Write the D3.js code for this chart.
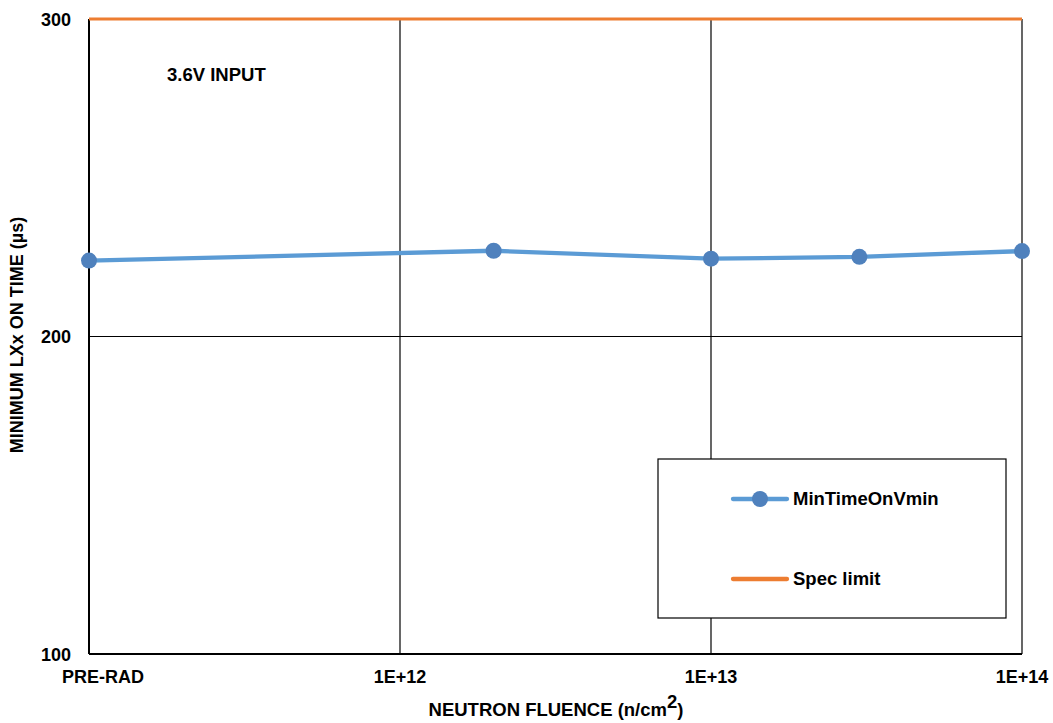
<!DOCTYPE html>
<html><head><meta charset="utf-8">
<script src="https://cdn.jsdelivr.net/npm/d3@7"></script>
<style>body{margin:0;background:#fff}svg{display:block;font-family:"Liberation Sans",Arial,sans-serif;font-weight:bold}</style>
</head><body><svg id="c" width="1053" height="723"></svg>
<script>
const fluence = [1e11, 2e12, 1e13, 3e13, 1e14];
const minTimeOn = [223.9, 227.0, 224.5, 225.1, 226.9];
const specLimit = [300, 300];
const specX = [1e11, 1e14];
const xTickValues = [1e11, 1e12, 1e13, 1e14];
const xTickLabels = ["PRE-RAD", "1E+12", "1E+13", "1E+14"];
const yTickValues = [100, 200, 300];

const svg = d3.select("#c");
const L = 89, R = 1022, T = 19, B = 654;
const x = d3.scaleLog().domain([1e11, 1e14]).range([L, R]);
const y = d3.scaleLinear().domain([100, 300]).range([B, T]);

// gridlines
svg.append("g").selectAll("line").data(xTickValues.slice(1)).join("line")
  .attr("x1", d => x(d)).attr("x2", d => x(d)).attr("y1", T).attr("y2", B)
  .attr("stroke", "#000").attr("stroke-width", 1.2);
svg.append("g").selectAll("line").data(yTickValues.slice(1)).join("line")
  .attr("x1", L).attr("x2", R).attr("y1", d => y(d)).attr("y2", d => y(d))
  .attr("stroke", "#000").attr("stroke-width", 1.2);

// axes lines
svg.append("line").attr("x1", L).attr("x2", L).attr("y1", T).attr("y2", B).attr("stroke", "#000").attr("stroke-width", 2);
svg.append("line").attr("x1", L).attr("x2", R).attr("y1", B).attr("y2", B).attr("stroke", "#000").attr("stroke-width", 2);

// tick labels
svg.append("g").selectAll("text").data(yTickValues).join("text")
  .attr("x", 71).attr("y", d => y(d) + 6.5).attr("text-anchor", "end")
  .attr("font-size", 18).text(d => d);
svg.append("g").selectAll("text").data(xTickValues).join("text")
  .attr("x", (d, i) => i === 0 ? x(d) + 14 : x(d)).attr("y", 683).attr("text-anchor", "middle")
  .attr("font-size", 18).text((d, i) => xTickLabels[i]);

// spec limit
svg.append("path").datum(specX.map((d, i) => [d, specLimit[i]]))
  .attr("d", d3.line().x(d => x(d[0])).y(d => y(d[1])))
  .attr("stroke", "#ED7D31").attr("stroke-width", 3).attr("fill", "none");

// series
const pts = fluence.map((d, i) => [d, minTimeOn[i]]);
svg.append("path").datum(pts)
  .attr("d", d3.line().x(d => x(d[0])).y(d => y(d[1])))
  .attr("stroke", "#5B9BD5").attr("stroke-width", 4.3).attr("fill", "none");
svg.append("g").selectAll("circle").data(pts).join("circle")
  .attr("cx", d => x(d[0])).attr("cy", d => y(d[1])).attr("r", 8).attr("fill", "#4F81BD");

// annotation
svg.append("text").attr("x", 167).attr("y", 81).attr("font-size", 18.5).text("3.6V INPUT");

// axis titles
const xt = svg.append("text").attr("x", 556).attr("y", 716).attr("text-anchor", "middle").attr("font-size", 18.5);
xt.append("tspan").text("NEUTRON FLUENCE (n/cm");
xt.append("tspan").attr("dy", -8).attr("font-size", 18.5).text("2");
xt.append("tspan").attr("dy", 8).text(")");
svg.append("text").attr("transform", "translate(23,335) rotate(-90)").attr("text-anchor", "middle")
  .attr("font-size", 18).text("MINIMUM LXx ON TIME (µs)");

// legend
const lg = svg.append("g");
lg.append("rect").attr("x", 658).attr("y", 459).attr("width", 348).attr("height", 159)
  .attr("fill", "#fff").attr("stroke", "#000").attr("stroke-width", 1.2);
lg.append("line").attr("x1", 733).attr("x2", 787).attr("y1", 499).attr("y2", 499).attr("stroke", "#5B9BD5").attr("stroke-width", 4.3).attr("stroke-linecap", "round");
lg.append("circle").attr("cx", 760).attr("cy", 499).attr("r", 8).attr("fill", "#4F81BD");
lg.append("text").attr("x", 793).attr("y", 505).attr("font-size", 18.5).text("MinTimeOnVmin");
lg.append("line").attr("x1", 733).attr("x2", 787).attr("y1", 579).attr("y2", 579).attr("stroke", "#ED7D31").attr("stroke-width", 4.3).attr("stroke-linecap", "round");
lg.append("text").attr("x", 793).attr("y", 585).attr("font-size", 18.5).text("Spec limit");
</script></body></html>
